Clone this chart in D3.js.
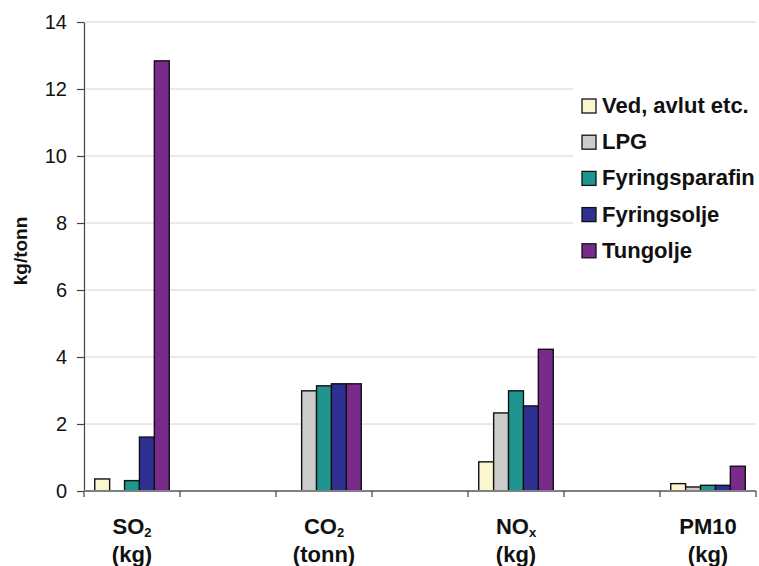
<!DOCTYPE html>
<html>
<head>
<meta charset="utf-8">
<script src="https://cdn.jsdelivr.net/npm/d3@7"></script>
<style>
  html, body { margin: 0; padding: 0; background: #fff; }
  svg { display: block; font-family: "Liberation Sans", Arial, sans-serif; }
</style>
</head>
<body>
<svg id="chart" width="759" height="566"></svg>
<script>
// Emission factors per fuel, kg per tonne of fuel (CO2 in tonnes)
const categories = ["SO2", "CO2", "NOx", "PM10"];
const categoryLabels = [
  { main: "SO", sub: "2", unit: "(kg)" },
  { main: "CO", sub: "2", unit: "(tonn)" },
  { main: "NO", sub: "x", unit: "(kg)" },
  { main: "PM10", sub: "", unit: "(kg)" }
];
const fuels = ["Ved, avlut etc.", "LPG", "Fyringsparafin", "Fyringsolje", "Tungolje"];
const colors = ["#faf6cf", "#cccccc", "#1f958f", "#2e3192", "#7a2a8b"];

const vedValues = [0.36, 0, 0.87, 0.22];
const lpgValues = [0, 2.99, 2.33, 0.12];
const parafinValues = [0.31, 3.14, 2.99, 0.17];
const fyringsoljeValues = [1.61, 3.2, 2.54, 0.17];
const tungoljeValues = [12.84, 3.2, 4.23, 0.74];
const seriesValues = [vedValues, lpgValues, parafinValues, fyringsoljeValues, tungoljeValues];

const yTicks = [0, 2, 4, 6, 8, 10, 12, 14];

const svg = d3.select("#chart");
const plotLeft = 84, plotRight = 756, plotTop = 22, plotBottom = 491;

// Categories sit in every other slot of the axis, with empty slots between them
const slots = [];
categories.forEach((c, i) => {
  slots.push(c);
  if (i < categories.length - 1) slots.push("gap" + i);
});

const x = d3.scaleBand().domain(slots).range([plotLeft, plotRight]).padding(0);
const x1 = d3.scaleBand().domain(fuels).range([0, x.bandwidth()])
  .paddingInner(0).paddingOuter(0.72);
const y = d3.scaleLinear().domain([0, 14]).range([plotBottom, plotTop]);

// Horizontal gridlines
svg.append("g")
  .selectAll("line")
  .data(yTicks.filter(d => d > 0))
  .join("line")
  .attr("x1", plotLeft).attr("x2", plotRight)
  .attr("y1", d => y(d)).attr("y2", d => y(d))
  .attr("stroke", "#d4d4d4").attr("stroke-width", 1);

// Bars
const groups = svg.append("g")
  .selectAll("g")
  .data(categories)
  .join("g")
  .attr("transform", d => `translate(${x(d)},0)`);

groups.selectAll("rect")
  .data((d, ci) => fuels.map((f, fi) => ({ fuel: f, fi, value: seriesValues[fi][ci] })).filter(d => d.value > 0))
  .join("rect")
  .attr("x", d => x1(d.fuel))
  .attr("y", d => y(d.value))
  .attr("width", x1.bandwidth())
  .attr("height", d => y(0) - y(d.value))
  .attr("fill", d => colors[d.fi])
  .attr("stroke", "#111")
  .attr("stroke-width", 1.4);

// Y axis
const yAxis = svg.append("g")
  .attr("transform", `translate(${plotLeft},0)`)
  .call(d3.axisLeft(y).tickValues(yTicks).tickSize(7).tickSizeOuter(0).tickPadding(10));
yAxis.select(".domain").attr("stroke", "#444").attr("stroke-width", 1.2);
yAxis.selectAll(".tick line").attr("stroke", "#444").attr("stroke-width", 1.2);
yAxis.selectAll(".tick text")
  .attr("font-size", 20).attr("fill", "#111")
  .attr("font-family", "Liberation Sans, Arial, sans-serif");

// X axis with ticks at slot boundaries
const xAxisG = svg.append("g");
xAxisG.append("line")
  .attr("x1", plotLeft).attr("x2", plotRight)
  .attr("y1", plotBottom).attr("y2", plotBottom)
  .attr("stroke", "#808080").attr("stroke-width", 2);
const boundaries = slots.map(s => x(s)).concat([x(slots[slots.length - 1]) + x.bandwidth()]);
xAxisG.selectAll("line.tick")
  .data(boundaries)
  .join("line")
  .attr("class", "tick")
  .attr("x1", d => d).attr("x2", d => d)
  .attr("y1", plotBottom).attr("y2", plotBottom + 6)
  .attr("stroke", "#444").attr("stroke-width", 1.2);

// Category labels (two lines, with subscripts)
const labels = svg.append("g")
  .selectAll("g")
  .data(categories)
  .join("g")
  .attr("transform", d => `translate(${x(d) + x.bandwidth() / 2},0)`)
  .attr("font-weight", "bold").attr("font-size", 22).attr("fill", "#111")
  .attr("text-anchor", "middle");

labels.each(function (d, i) {
  const g = d3.select(this);
  const lab = categoryLabels[i];
  const t1 = g.append("text").attr("y", 534);
  t1.append("tspan").text(lab.main);
  if (lab.sub) {
    t1.append("tspan").text(lab.sub).attr("font-size", 13).attr("dy", 3);
  }
  g.append("text").attr("y", 562).text(lab.unit);
});

// Y axis title
svg.append("text")
  .attr("transform", `translate(27,251) rotate(-90)`)
  .attr("text-anchor", "middle")
  .attr("font-weight", "bold").attr("font-size", 19).attr("fill", "#111")
  .text("kg/tonn");

// Legend
const legend = svg.append("g");
legend.append("rect")
  .attr("x", 573).attr("y", 78).attr("width", 186).attr("height", 190)
  .attr("fill", "#fff");
const items = legend.selectAll("g")
  .data(fuels)
  .join("g")
  .attr("transform", (d, i) => `translate(582,${105 + i * 36.2})`);
items.append("rect")
  .attr("x", 0).attr("y", -6).attr("width", 14).attr("height", 14)
  .attr("fill", (d, i) => colors[i])
  .attr("stroke", "#111").attr("stroke-width", 1.3);
items.append("text")
  .attr("x", 20).attr("y", 8)
  .attr("font-weight", "bold").attr("font-size", 22).attr("fill", "#111")
  .text(d => d);
</script>
</body>
</html>
